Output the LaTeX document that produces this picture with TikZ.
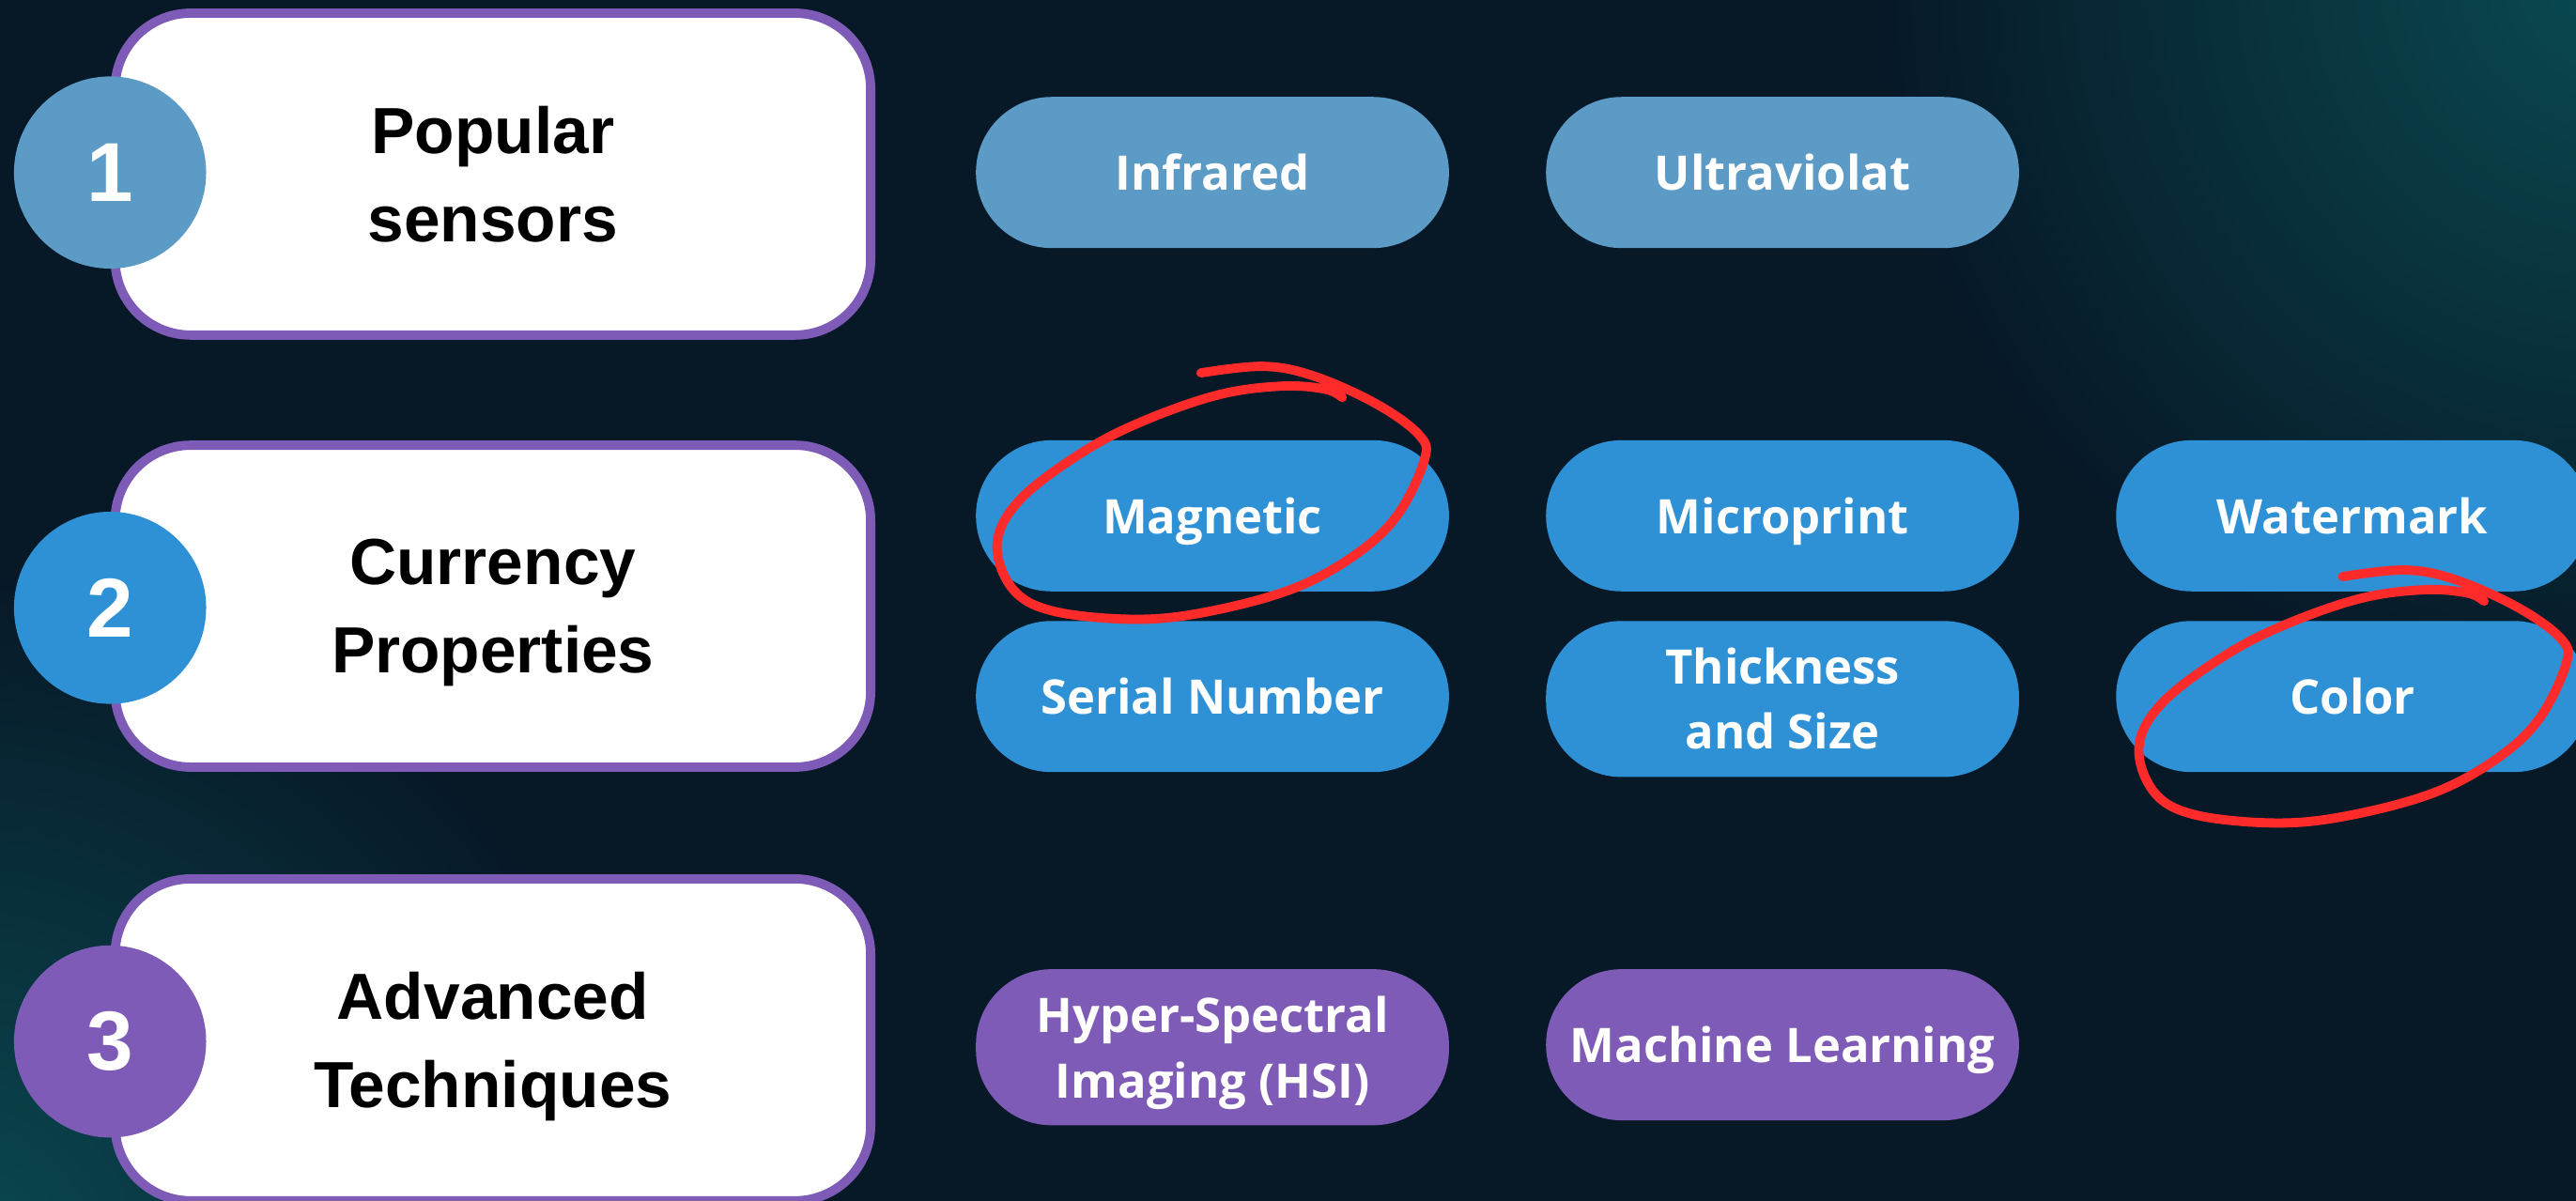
\documentclass[tikz,border=0pt]{standalone}
\usepackage{fontspec}
\setmainfont{Liberation Sans}
\newfontfamily\pillfont{Open Sans}
\definecolor{bgnavy}{HTML}{071827}
\definecolor{glowteal}{HTML}{0A4A52}
\definecolor{steelblue}{HTML}{5B9BC6}
\definecolor{brightblue}{HTML}{2E91D6}
\definecolor{lavender}{HTML}{7E5BB7}
\definecolor{scribblered}{HTML}{FF2A2A}
% last line without depth, so all labels sit alike
\newcommand{\nodepth}[1]{\raisebox{0pt}[\height][0pt]{#1}}
\begin{document}
\begin{tikzpicture}[x=0.02cm, y=-0.02cm,
    card/.style={draw=lavender, line width=3.2pt, fill=white, rounded corners=0.92cm,
      minimum width=9.2cm, minimum height=3.92cm, align=center,
      font=\bfseries\fontsize{22.6}{30.5}\selectfont},
    badge/.style={circle, minimum size=2.34cm, inner sep=0pt, text=white,
      font=\bfseries\fontsize{29}{30}\selectfont},
    pill/.style={rounded corners=0.92cm, minimum width=5.76cm, minimum height=1.84cm,
      align=center, text=white, font=\pillfont\bfseries\fontsize{16.5}{22.5}\selectfont},
    scribble/.style={draw=scribblered, line width=3.2pt, line cap=round, line join=round}]
    % background
    \useasboundingbox (0, 0) rectangle (1568, 731);
    \fill [bgnavy] (0, 0) rectangle (1568, 731);
    \begin{scope}
      \clip (0, 0) rectangle (1568, 731);
      \shade [inner color=glowteal, outer color=bgnavy] (1590, -15) circle (9cm);
      \shade [inner color=glowteal, outer color=bgnavy] (-30, 770) circle (8.5cm);
    \end{scope}
    % cards
    \node [card] (popular) at (300, 106) {Popular\\sensors};
    \node [card] (currency) at (300, 369) {Currency\\\nodepth{Properties}};
    \node [card] (advanced) at (300, 633) {Advanced\\\nodepth{Techniques}};
    \node [badge, fill=steelblue] (one) at (67, 105) {1};
    \node [badge, fill=brightblue] (two) at (67, 370) {2};
    \node [badge, fill=lavender] (three) at (67, 634) {3};
    % sensors
    \node [pill, fill=steelblue] (infrared) at (738, 105) {Infrared};
    \node [pill, fill=steelblue] (ultraviolat) at (1085, 105) {Ultraviolat};
    % properties
    \node [pill, fill=brightblue] (magnetic) at (738, 314) {\nodepth{Magnetic}};
    \node [pill, fill=brightblue] (microprint) at (1085, 314) {\nodepth{Microprint}};
    \node [pill, fill=brightblue] (watermark) at (1432, 314) {Watermark};
    \node [pill, fill=brightblue] (serial) at (738, 424) {Serial Number};
    \node [pill, fill=brightblue, minimum height=1.9cm] (thickness) at (1085, 425.5) {Thickness\\and Size};
    \node [pill, fill=brightblue] (colour) at (1432, 424) {Color};
    % techniques
    \node [pill, fill=lavender, minimum height=1.9cm] (hsi) at (738, 637.5) {Hyper-Spectral\\\nodepth{Imaging (HSI)}};
    \node [pill, fill=lavender] (learning) at (1085, 636) {\nodepth{Machine Learning}};
    % red marks
    \foreach \dx/\dy in {0/0, 695/124} {
      \draw [scribble, shift={(\dx, \dy)}] plot [smooth, tension=0.6] coordinates {
        (731,227) (769,223) (800,229) (838,246) (864,265) (867,280) (851,313)
        (826,337) (788,358) (737,372) (692,377) (641,372) (616,358) (607,330)
        (622,303) (661,274) (699,255) (743,240) (781,235) (807,237) (817,242)};
    }
  \end{tikzpicture}
\end{document}
